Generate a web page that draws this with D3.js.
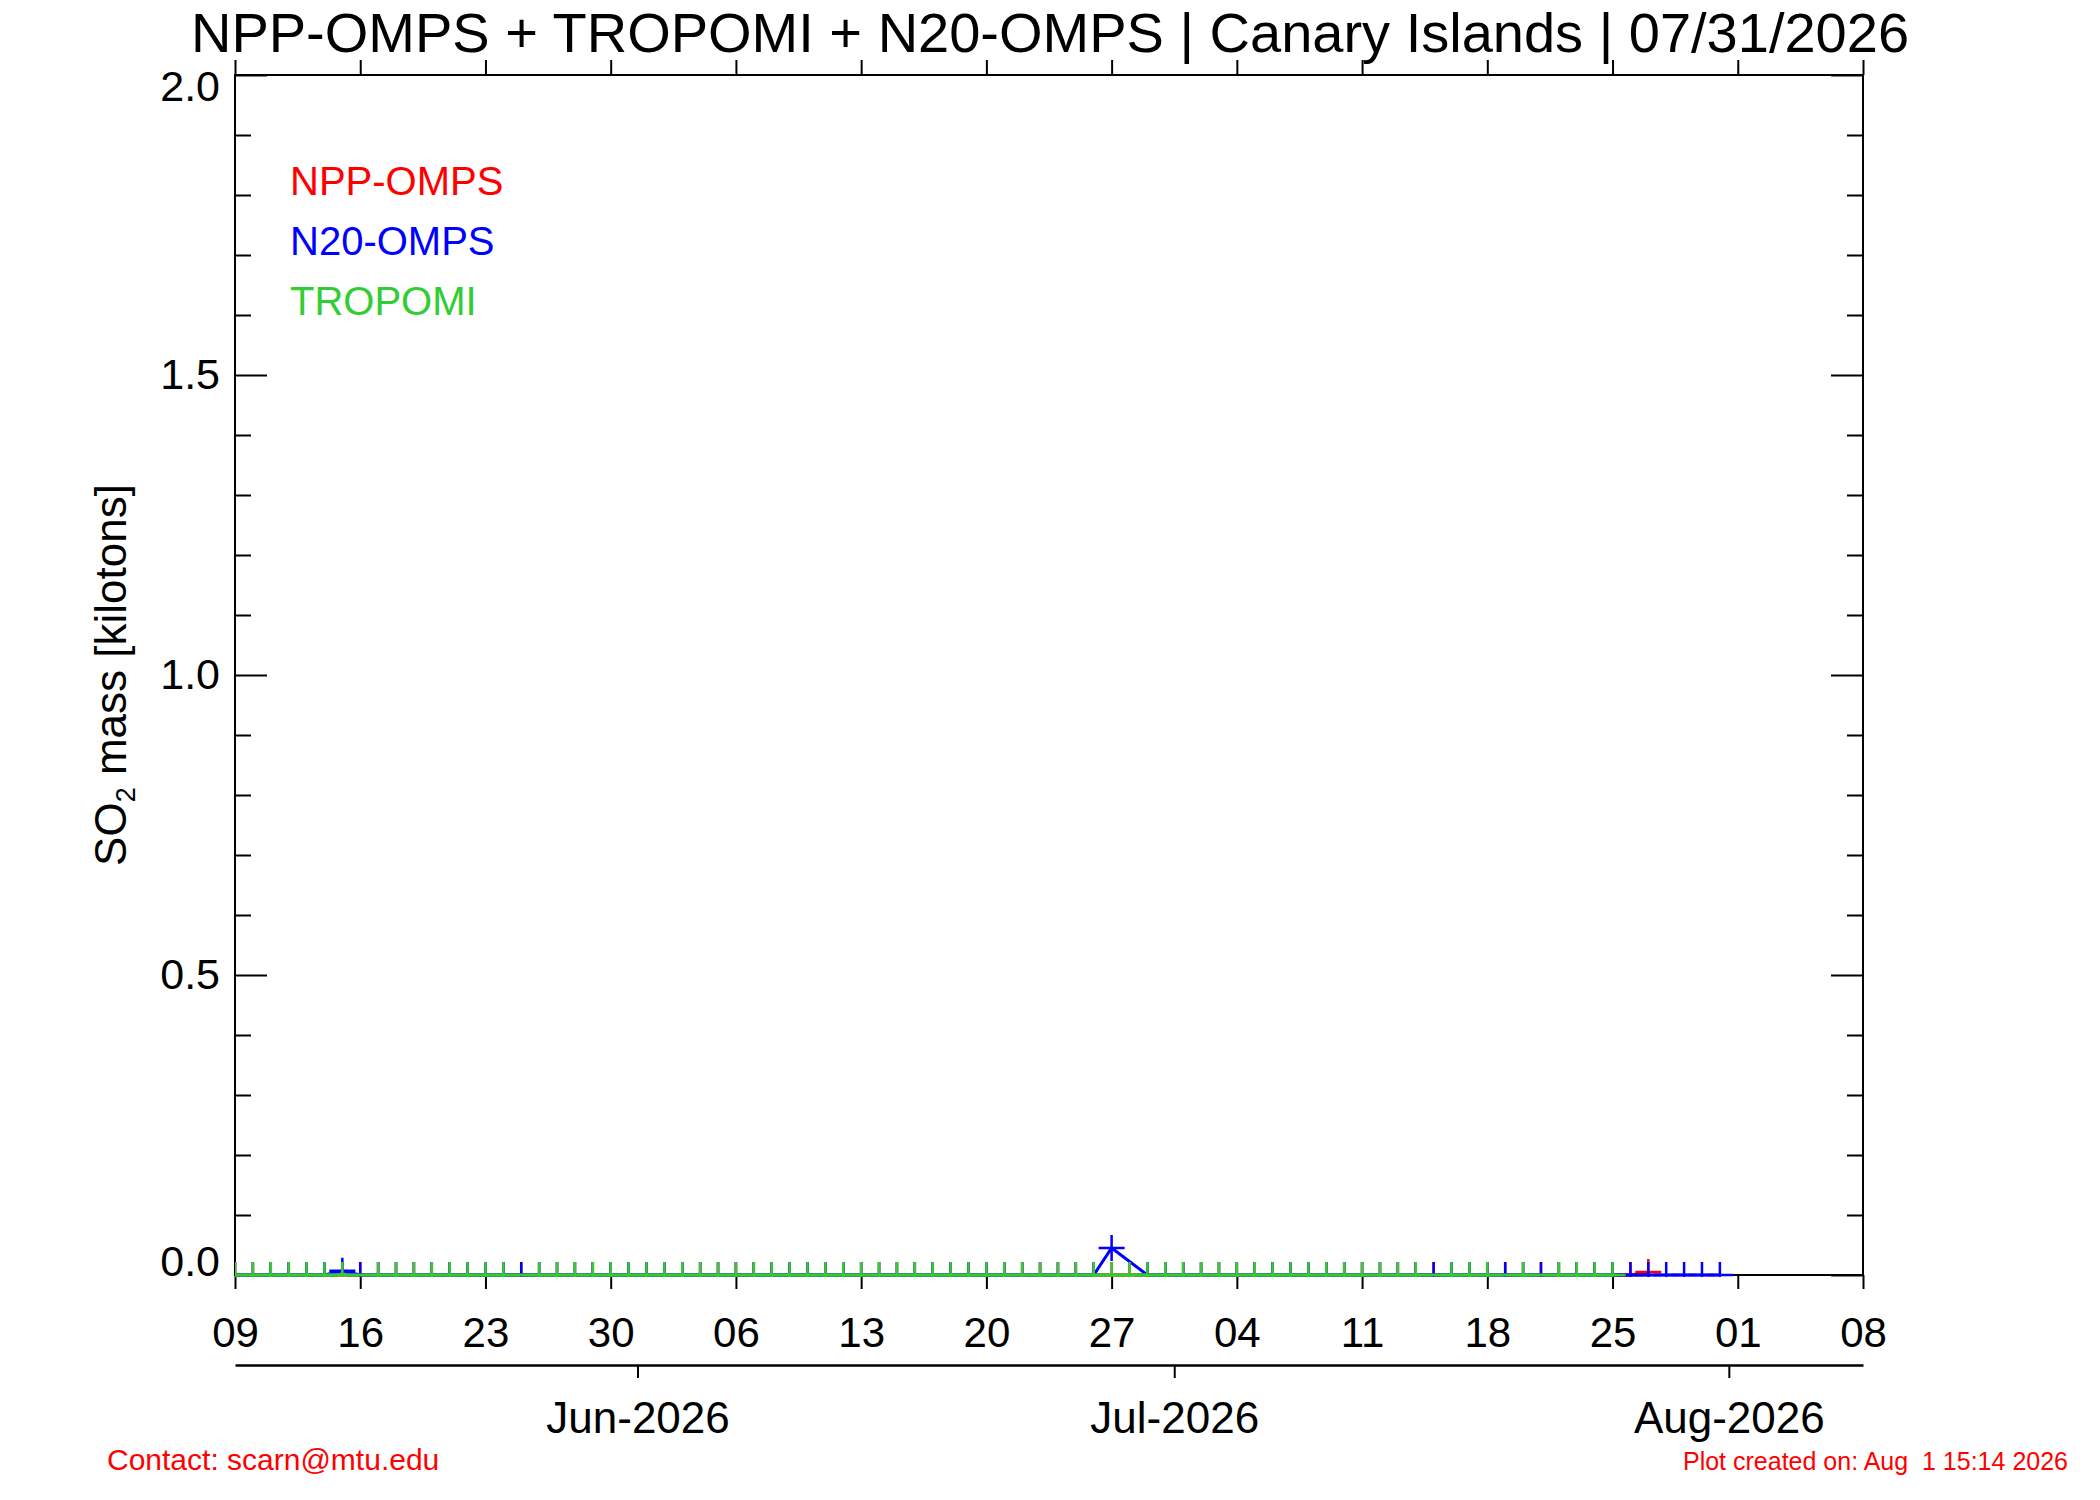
<!DOCTYPE html>
<html>
<head>
<meta charset="utf-8">
<script src="https://cdn.jsdelivr.net/npm/d3@7"></script>
<style>
  body { margin: 0; background: #fff; }
  svg { display: block; font-family: "Liberation Sans", Arial, Helvetica, sans-serif; }
</style>
</head>
<body>
<svg class="chart"></svg>
<script>
const firstDay = "2026-05-09";
const lastDay = "2026-07-31";

// one value per day (kilotons), null = no retrieval that day
const nppOmps = [
  0, 0, 0, 0, 0, 0, 0,          // May 09-15
  0, 0, 0, 0, 0, 0, 0,          // May 16-22
  0, 0, 0, 0, 0, 0, 0,          // May 23-29
  0, 0, 0, 0, 0, 0, 0,          // May 30-Jun 05
  0, 0, 0, 0, 0, 0, 0,          // Jun 06-12
  0, 0, 0, 0, 0, 0, 0,          // Jun 13-19
  0, 0, 0, 0, 0, 0, 0,          // Jun 20-26
  0, 0, 0, 0, 0, 0, 0,          // Jun 27-Jul 03
  0, 0, 0, 0, 0, 0, 0,          // Jul 04-10
  0, 0, 0, 0, 0, 0, 0,          // Jul 11-17
  0, 0, 0, 0, 0, 0, 0,          // Jul 18-24
  0, 0, 0.005, null, null, null, null // Jul 25-31
];

const n20Omps = [
  0, 0, 0, 0, 0, 0, 0.007,
  0, 0, 0, 0, 0, 0, 0,
  0, 0, 0, 0, 0, 0, 0,
  0, 0, 0, 0, 0, 0, 0,
  0, 0, 0, 0, 0, 0, 0,
  0, 0, 0, 0, 0, 0, 0,
  0, 0, 0, 0, 0, 0, 0,
  0.045, null, 0, 0, 0, 0, 0,
  0, 0, 0, 0, 0, 0, 0,
  0, 0, 0, 0, 0, 0, 0,
  0, 0, 0, 0, 0, 0, 0,
  0, 0, 0, 0, 0, 0, 0
];

const tropomi = [
  0, 0, 0, 0, 0, 0, 0,
  null, 0, 0, 0, 0, 0, 0,
  0, 0, null, 0, 0, 0, 0,
  0, 0, 0, 0, 0, 0, 0,
  0, 0, 0, 0, 0, 0, 0,
  0, 0, 0, 0, 0, 0, 0,
  0, 0, 0, 0, 0, 0, 0,
  0, 0, 0, 0, 0, 0, 0,
  0, 0, 0, 0, 0, 0, 0,
  0, 0, 0, 0, null, 0, 0,
  0, null, 0, null, 0, 0, 0,
  0, null, null, null, null, null, null
];

const tickDays = [
  "2026-05-09", "2026-05-16", "2026-05-23", "2026-05-30", "2026-06-06",
  "2026-06-13", "2026-06-20", "2026-06-27", "2026-07-04", "2026-07-11",
  "2026-07-18", "2026-07-25", "2026-08-01", "2026-08-08",
];
const tickDayLabels = ["09", "16", "23", "30", "06", "13", "20", "27", "04", "11", "18", "25", "01", "08"];

const monthTicks = ["2026-06-01", "2026-07-01", "2026-08-01"];
const monthLabels = ["Jun-2026", "Jul-2026", "Aug-2026"];

const yMajorTicks = [0, 0.5, 1.0, 1.5, 2.0];
const yMinorTicks = [0.1, 0.2, 0.3, 0.4, 0.6, 0.7, 0.8, 0.9, 1.1, 1.2, 1.3, 1.4, 1.6, 1.7, 1.8, 1.9];

const titleText = "NPP-OMPS + TROPOMI + N20-OMPS | Canary Islands | 07/31/2026";

const seriesInfo = [
  { name: "NPP-OMPS", values: nppOmps, color: "#ff0000" },
  { name: "N20-OMPS", values: n20Omps, color: "#0000ff" },
  { name: "TROPOMI", values: tropomi, color: "#32cd32" },
];

const margin = { top: 75, right: 237, bottom: 225, left: 235 };
const W = 2100, H = 1500;
const width = W - margin.left - margin.right;
const height = H - margin.top - margin.bottom;

const noon = s => new Date(s + "T12:00:00Z");
const midnight = s => new Date(s + "T00:00:00Z");

const days = d3.utcDay.range(midnight(firstDay), d3.utcDay.offset(midnight(lastDay), 1))
  .map(d => d3.utcHour.offset(d, 12));

const svgContainer = d3.select('.chart').attr('width', W).attr('height', H);
const svg = svgContainer.append('g').attr('transform', `translate(${margin.left},${margin.top})`);

const xScale = d3.scaleUtc()
  .domain([noon("2026-05-09"), noon("2026-08-08")])
  .range([0, width]);
const yScale = d3.scaleLinear().domain([0, 2]).range([height, 0]);

function styleAxis(g, fontSize) {
  g.attr('font-family', null).attr('font-size', fontSize);
  g.selectAll('.tick line').attr('stroke', '#000').attr('stroke-width', 2);
  g.selectAll('.tick text').attr('fill', '#000');
}

// frame
svg.append('rect')
  .attr('width', width).attr('height', height)
  .attr('fill', 'none').attr('stroke', '#000').attr('stroke-width', 2);

// bottom day axis
svg.append('g')
  .attr('transform', `translate(0,${height})`)
  .call(d3.axisBottom(xScale).tickValues(tickDays.map(noon)).tickSize(14).tickPadding(28)
    .tickFormat((d, i) => tickDayLabels[i]))
  .call(g => g.select('.domain').remove())
  .call(g => styleAxis(g, 42));

// top axis, ticks only
svg.append('g')
  .call(d3.axisTop(xScale).tickValues(tickDays.map(noon)).tickSize(15).tickFormat(''))
  .call(g => g.select('.domain').remove())
  .call(g => styleAxis(g, 42));

// left axis (ticks point inward)
svg.append('g')
  .call(d3.axisLeft(yScale).tickValues(yMajorTicks).tickSizeInner(-32).tickSizeOuter(0).tickPadding(15)
    .tickFormat(d3.format('.1f')))
  .call(g => g.select('.domain').remove())
  .call(g => styleAxis(g, 43))
  .call(g => g.selectAll('.tick text').attr('dy', d => d === 0 ? '0.02em' : d === 2 ? '0.6em' : '0.32em'));

svg.append('g')
  .call(d3.axisLeft(yScale).tickValues(yMinorTicks).tickSize(-16).tickFormat(''))
  .call(g => g.select('.domain').remove())
  .call(g => styleAxis(g, 43));

// right axis
svg.append('g')
  .attr('transform', `translate(${width},0)`)
  .call(d3.axisRight(yScale).tickValues(yMajorTicks).tickSize(-32).tickFormat(''))
  .call(g => g.select('.domain').remove())
  .call(g => styleAxis(g, 43));

svg.append('g')
  .attr('transform', `translate(${width},0)`)
  .call(d3.axisRight(yScale).tickValues(yMinorTicks).tickSize(-16).tickFormat(''))
  .call(g => g.select('.domain').remove())
  .call(g => styleAxis(g, 43));

// month axis below
svg.append('g')
  .attr('transform', `translate(0,${height + 90})`)
  .call(d3.axisBottom(xScale).tickValues(monthTicks.map(midnight)).tickSizeInner(13).tickSizeOuter(0).tickPadding(24)
    .tickFormat((d, i) => monthLabels[i]))
  .call(g => g.select('.domain').attr('stroke', '#000').attr('stroke-width', 2.5))
  .call(g => styleAxis(g, 44));

// data
svg.append('clipPath').attr('id', 'plot-clip')
  .append('rect').attr('x', 0).attr('y', 0).attr('width', width).attr('height', height + 2);

const dataLayer = svg.append('g').attr('clip-path', 'url(#plot-clip)');
const line = d3.line().x(d => xScale(d.date)).y(d => yScale(d.value));
const s = 13;

seriesInfo.forEach(info => {
  const pts = days.map((date, i) => ({ date, value: info.values[i] }))
    .filter(d => d.value !== null);

  dataLayer.append('path')
    .datum(pts)
    .attr('d', line)
    .attr('fill', 'none')
    .attr('stroke', info.color)
    .attr('stroke-width', 3);

  dataLayer.append('g').selectAll('path')
    .data(pts)
    .join('path')
    .attr('d', d => {
      const px = xScale(d.date), py = yScale(d.value);
      return `M${px - s},${py}H${px + s}M${px},${py - s}V${py + s}`;
    })
    .attr('fill', 'none')
    .attr('stroke', info.color)
    .attr('stroke-width', 2.5);
});

// legend
svg.append('g').selectAll('text')
  .data(seriesInfo)
  .join('text')
  .attr('x', 55)
  .attr('y', (d, i) => 120 + i * 60)
  .attr('font-size', 40)
  .attr('fill', d => d.color)
  .text(d => d.name);

// title
svgContainer.append('text')
  .attr('x', 1050).attr('y', 52)
  .attr('text-anchor', 'middle')
  .attr('font-size', 56)
  .attr('fill', '#000')
  .text(titleText);

// y axis title
const yTitle = svgContainer.append('text')
  .attr('transform', `translate(126,${margin.top + height / 2}) rotate(-90)`)
  .attr('text-anchor', 'middle')
  .attr('font-size', 44)
  .attr('fill', '#000');
yTitle.append('tspan').text('SO');
yTitle.append('tspan').attr('font-size', 27).attr('dy', 9).text('2');
yTitle.append('tspan').attr('dy', -9).text(' mass [kilotons]');

// footer
svgContainer.append('text')
  .attr('x', 107).attr('y', 1470)
  .attr('font-size', 30)
  .attr('fill', '#ff0000')
  .text('Contact: scarn@mtu.edu');

svgContainer.append('text')
  .attr('x', 2068).attr('y', 1470)
  .attr('text-anchor', 'end')
  .attr('font-size', 25)
  .attr('fill', '#ff0000')
  .style('white-space', 'pre')
  .text('Plot created on: Aug  1 15:14 2026');
</script>
</body>
</html>
